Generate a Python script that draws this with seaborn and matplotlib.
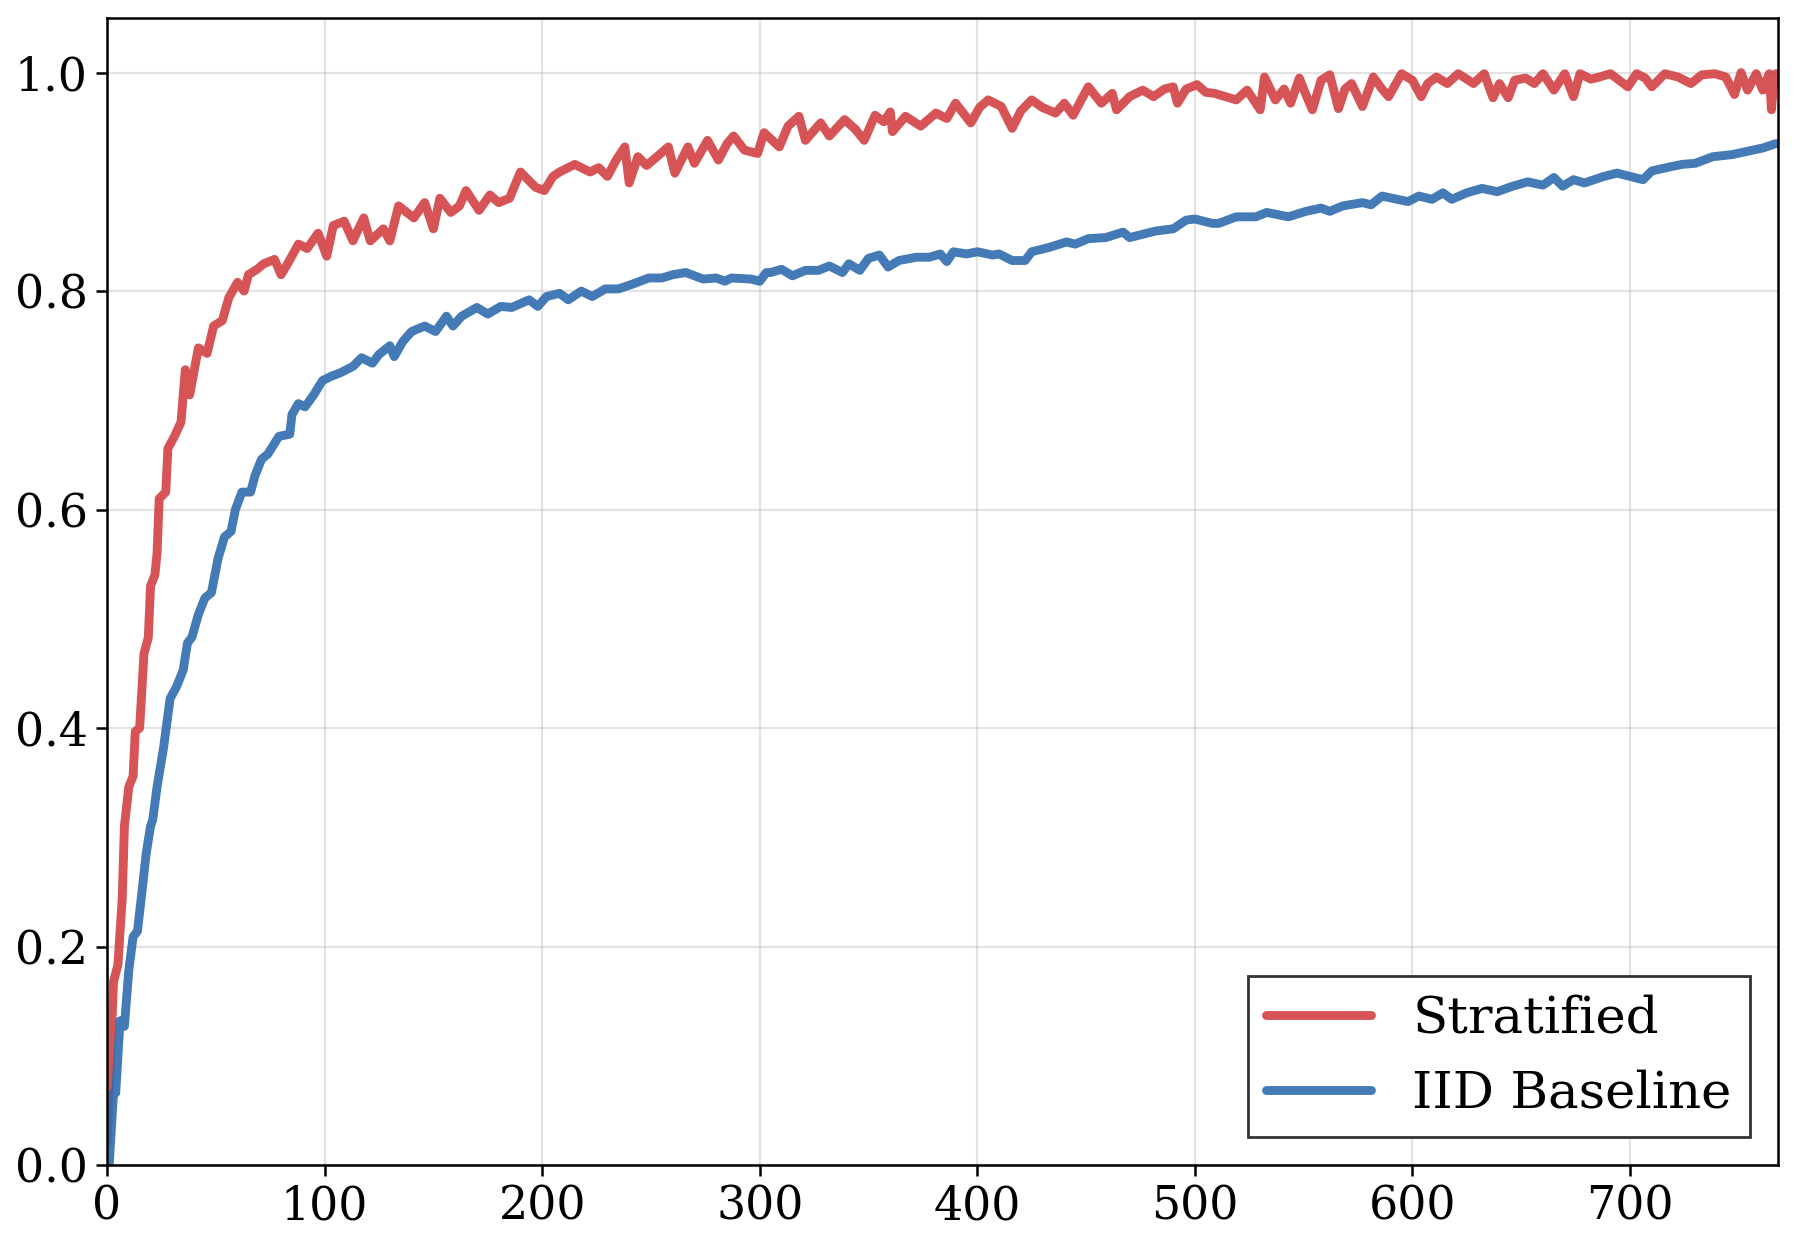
import matplotlib
matplotlib.use("Agg")
import matplotlib.pyplot as plt
import seaborn as sns
import pandas as pd

# ---- data ----
strat_steps = [0, 1, 3, 5, 7, 8, 10, 12, 13, 15, 17, 19, 20, 22, 23, 24, 27, 28, 31, 34,
               36, 38, 42, 46, 49, 53, 56, 60, 63, 65, 69, 72, 77, 80, 83, 88, 92, 97, 101, 104,
               109, 113, 118, 121, 127, 130, 134, 141, 146, 150, 153, 158, 162, 165, 171, 176, 180, 185, 190, 197,
               201, 205, 208, 215, 222, 226, 230, 234, 238, 240, 244, 248, 251, 258, 261, 267, 270, 276, 281, 285,
               288, 293, 299, 302, 309, 313, 318, 321, 328, 332, 339, 344, 348, 353, 357, 360, 361, 367, 374, 381,
               386, 390, 397, 401, 405, 411, 416, 420, 425, 430, 436, 440, 444, 451, 457, 462, 464, 470, 476, 481,
               486, 490, 492, 496, 501, 505, 509, 514, 519, 524, 530, 532, 537, 541, 544, 548, 551, 554, 558, 562,
               566, 569, 572, 577, 582, 586, 589, 595, 600, 604, 607, 611, 616, 621, 625, 628, 633, 637, 640, 644,
               647, 652, 656, 660, 665, 670, 674, 677, 682, 686, 691, 695, 699, 703, 707, 710, 716, 722, 728, 733,
               739, 744, 748, 751, 754, 758, 761, 764, 765, 766, 767]
strat_acc = [0.02, 0.07, 0.168, 0.183, 0.244, 0.31, 0.346, 0.356, 0.397, 0.40, 0.468, 0.483, 0.53, 0.54, 0.56, 0.61, 0.616, 0.656, 0.667, 0.68,
             0.728, 0.705, 0.748, 0.743, 0.768, 0.773, 0.794, 0.808, 0.80, 0.815, 0.82, 0.825, 0.829, 0.815, 0.825, 0.843, 0.839, 0.853, 0.832, 0.86,
             0.864, 0.846, 0.867, 0.846, 0.857, 0.846, 0.878, 0.867, 0.881, 0.857, 0.885, 0.872, 0.878, 0.892, 0.874, 0.888, 0.881, 0.885, 0.909, 0.895,
             0.892, 0.905, 0.909, 0.916, 0.909, 0.913, 0.905, 0.92, 0.932, 0.899, 0.923, 0.915, 0.92, 0.932, 0.908, 0.932, 0.917, 0.938, 0.92, 0.935,
             0.942, 0.929, 0.926, 0.945, 0.932, 0.951, 0.96, 0.938, 0.954, 0.942, 0.957, 0.948, 0.938, 0.961, 0.955, 0.964, 0.946, 0.96, 0.951, 0.963,
             0.958, 0.972, 0.954, 0.968, 0.975, 0.969, 0.949, 0.965, 0.975, 0.968, 0.963, 0.972, 0.961, 0.987, 0.972, 0.981, 0.966, 0.978, 0.984, 0.978,
             0.985, 0.987, 0.972, 0.985, 0.989, 0.982, 0.981, 0.978, 0.975, 0.984, 0.966, 0.996, 0.975, 0.985, 0.972, 0.995, 0.98, 0.966, 0.993, 0.998,
             0.967, 0.985, 0.99, 0.969, 0.996, 0.985, 0.978, 0.999, 0.993, 0.978, 0.99, 0.996, 0.99, 0.999, 0.994, 0.99, 0.999, 0.977, 0.99, 0.977,
             0.993, 0.995, 0.99, 0.999, 0.984, 0.999, 0.978, 0.999, 0.994, 0.996, 0.999, 0.993, 0.987, 0.999, 0.995, 0.987, 0.999, 0.996, 0.99, 0.998,
             0.999, 0.996, 0.98, 1.0, 0.984, 0.999, 0.984, 0.999, 0.966, 0.99, 0.999]

iid_steps = [0, 1, 3, 4, 6, 8, 10, 12, 14, 16, 18, 20, 21, 23, 26, 29, 32, 35, 37, 39,
             42, 45, 48, 51, 54, 57, 59, 62, 66, 68, 71, 74, 79, 84, 85, 88, 91, 95, 99, 103,
             107, 113, 117, 122, 125, 130, 132, 136, 140, 146, 151, 156, 159, 163, 170, 175, 181, 186, 194, 198,
             202, 208, 212, 218, 223, 229, 235, 241, 249, 255, 260, 266, 274, 280, 284, 287, 296, 300, 303, 305,
             310, 315, 321, 327, 332, 338, 341, 346, 350, 355, 359, 364, 372, 378, 383, 386, 389, 395, 400, 407,
             410, 416, 422, 425, 433, 441, 445, 451, 459, 467, 470, 474, 482, 490, 496, 500, 504, 508, 511, 519,
             528, 533, 543, 551, 558, 562, 568, 577, 581, 586, 593, 598, 603, 609, 614, 618, 625, 632, 639, 646,
             653, 660, 665, 669, 674, 679, 688, 694, 700, 706, 710, 719, 724, 730, 738, 747, 754, 761, 767]
iid_acc = [0.0, 0.0, 0.066, 0.066, 0.132, 0.127, 0.178, 0.209, 0.214, 0.249, 0.285, 0.31, 0.316, 0.346, 0.382, 0.427, 0.438, 0.453, 0.478, 0.483,
           0.504, 0.519, 0.524, 0.555, 0.575, 0.58, 0.60, 0.616, 0.616, 0.631, 0.646, 0.651, 0.667, 0.669, 0.687, 0.697, 0.694, 0.705, 0.718, 0.722,
           0.725, 0.731, 0.739, 0.734, 0.742, 0.75, 0.74, 0.754, 0.763, 0.768, 0.763, 0.777, 0.768, 0.777, 0.785, 0.779, 0.786, 0.785, 0.792, 0.786,
           0.795, 0.798, 0.792, 0.80, 0.795, 0.802, 0.802, 0.806, 0.812, 0.812, 0.815, 0.817, 0.811, 0.812, 0.809, 0.812, 0.811, 0.809, 0.817, 0.817,
           0.82, 0.814, 0.819, 0.819, 0.823, 0.817, 0.825, 0.819, 0.83, 0.833, 0.822, 0.828, 0.831, 0.831, 0.834, 0.827, 0.836, 0.834, 0.836, 0.833,
           0.834, 0.828, 0.828, 0.836, 0.84, 0.845, 0.843, 0.848, 0.849, 0.854, 0.849, 0.851, 0.855, 0.857, 0.865, 0.866, 0.864, 0.862, 0.862, 0.868,
           0.868, 0.872, 0.868, 0.873, 0.876, 0.873, 0.878, 0.881, 0.879, 0.887, 0.884, 0.882, 0.887, 0.884, 0.89, 0.884, 0.89, 0.894, 0.891, 0.896,
           0.90, 0.897, 0.904, 0.896, 0.902, 0.899, 0.905, 0.908, 0.905, 0.902, 0.91, 0.914, 0.916, 0.917, 0.923, 0.925, 0.928, 0.931, 0.935]

series_labels = ["Stratified", "IID Baseline"]
series_colors = ["#d24144", "#306dae"]
x_ticks = [0, 100, 200, 300, 400, 500, 600, 700]
y_ticks = [0.0, 0.2, 0.4, 0.6, 0.8, 1.0]

# ---- style ----
sns.set_theme(style="whitegrid")
plt.rcParams["font.family"] = ["DejaVu Serif"]
plt.rcParams["mathtext.fontset"] = "dejavuserif"
plt.rcParams["text.color"] = "black"

df = pd.concat([
    pd.DataFrame({"step": strat_steps, "acc": strat_acc, "method": series_labels[0]}),
    pd.DataFrame({"step": iid_steps, "acc": iid_acc, "method": series_labels[1]}),
], ignore_index=True)

fig = plt.figure(figsize=(1797 / 200, 1238 / 200), dpi=200)
ax = fig.add_axes([107 / 1797, 73 / 1238, (1778 - 107) / 1797, (1165 - 18) / 1238])

sns.lineplot(data=df, x="step", y="acc", hue="method", hue_order=series_labels,
             palette=dict(zip(series_labels, series_colors)), estimator=None,
             sort=False, linewidth=3.2, alpha=0.9, ax=ax)

ax.set_xlim(0, 768)
ax.set_ylim(0, 1.05)
ax.set_xticks(x_ticks)
ax.set_yticks(y_ticks)
ax.set_xticklabels([str(t) for t in x_ticks])
ax.set_yticklabels([f"{t:.1f}" for t in y_ticks])
ax.set_xlabel("")
ax.set_ylabel("")
ax.tick_params(axis="both", which="major", labelsize=16.5, length=4, width=0.9,
               color="black", direction="out", bottom=True, left=True, pad=3, labelcolor="black")

ax.grid(True, color="#b0b0b0", alpha=0.35, linewidth=0.8)
for s in ax.spines.values():
    s.set_visible(True)
    s.set_color("black")
    s.set_linewidth(0.9)
ax.set_facecolor("white")

handles, labels = ax.get_legend_handles_labels()
leg = ax.legend(handles, labels, loc="lower right", fontsize=18.5, frameon=True,
                fancybox=False, edgecolor="#333333", framealpha=1.0, handlelength=2.05,
                borderpad=0.35, labelspacing=0.5, borderaxespad=0.55)
leg.get_frame().set_linewidth(1.0)
for t in leg.get_texts():
    t.set_color("black")
for line in leg.get_lines():
    line.set_linewidth(3.2)

fig.savefig("out.png", dpi=200, facecolor="white")
